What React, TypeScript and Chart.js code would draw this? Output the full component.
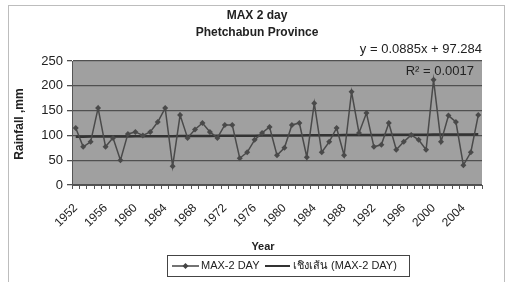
import React, { useEffect, useRef } from "react";
import { Chart, registerables } from "chart.js";

Chart.register(...registerables);

const years: string[] = [
  "1952","1953","1954","1955","1956","1957","1958","1959","1960","1961",
  "1962","1963","1964","1965","1966","1967","1968","1969","1970","1971",
  "1972","1973","1974","1975","1976","1977","1978","1979","1980","1981",
  "1982","1983","1984","1985","1986","1987","1988","1989","1990","1991",
  "1992","1993","1994","1995","1996","1997","1998","1999","2000","2001",
  "2002","2003","2004","2005","2006",
];

const max2Day: number[] = [
  115, 77, 87, 155, 77, 95, 50, 103, 107, 100,
  107, 127, 155, 38, 141, 95, 112, 125, 107, 95,
  121, 121, 54, 66, 91, 105, 117, 60, 75, 121,
  125, 56, 165, 66, 87, 115, 60, 188, 105, 145,
  77, 81, 125, 71, 87, 101, 91, 71, 212, 87,
  140, 127, 40, 66, 141,
];

// Excel trendline as printed on the chart: y = 0.0885x + 97.284 (x = 1..n)
const trendSlope = 0.0885;
const trendIntercept = 97.284;
const trendValues: number[] = years.map((_, i) => trendSlope * (i + 1) + trendIntercept);

const yTicks: number[] = [0, 50, 100, 150, 200, 250];

const titleLines: string[] = ["MAX 2 day", "Phetchabun Province"];
const equationText = "y = 0.0885x + 97.284";
const r2Text = "R\u00B2 = 0.0017";
const seriesLabel = "MAX-2 DAY";
const trendLabel = "เชิงเส้น (MAX-2 DAY)";
const xTitle = "Year";
const yTitle = "Rainfall ,mm";

const FONT = '"Liberation Sans", Arial, "Noto Sans", sans-serif';

const decorPlugin = {
  id: "decor",
  beforeDraw(chart: any) {
    const { ctx, chartArea } = chart;
    ctx.save();
    ctx.fillStyle = "#ffffff";
    ctx.fillRect(0, 0, chart.width, chart.height);
    ctx.strokeStyle = "#bdbdbd";
    ctx.lineWidth = 1;
    ctx.strokeRect(8.5, 5.5, 496, 280);
    ctx.fillStyle = "#a0a0a0";
    ctx.fillRect(chartArea.left, chartArea.top, chartArea.right - chartArea.left, chartArea.bottom - chartArea.top);
    ctx.restore();
  },
  afterDraw(chart: any) {
    const { ctx } = chart;
    ctx.save();
    ctx.fillStyle = "#222";
    ctx.textBaseline = "middle";
    ctx.textAlign = "center";
    ctx.font = `bold 12px ${FONT}`;
    ctx.fillText(titleLines[0], 257, 16);
    ctx.fillText(titleLines[1], 257, 33);

    ctx.font = `13px ${FONT}`;
    ctx.textAlign = "right";
    ctx.fillText(equationText, 482, 49);
    ctx.fillText(r2Text, 474, 71);

    ctx.textAlign = "center";
    ctx.font = `bold 11px ${FONT}`;
    ctx.fillText(xTitle, 263, 247);

    ctx.save();
    ctx.translate(20, 124);
    ctx.rotate(-Math.PI / 2);
    ctx.font = `bold 12px ${FONT}`;
    ctx.fillText(yTitle, 0, 0);
    ctx.restore();

    // legend
    ctx.strokeStyle = "#444";
    ctx.lineWidth = 1;
    ctx.strokeRect(167.5, 255.5, 242, 21);
    const ly = 266;
    ctx.strokeStyle = "#444";
    ctx.lineWidth = 1.5;
    ctx.beginPath();
    ctx.moveTo(172, ly);
    ctx.lineTo(199, ly);
    ctx.stroke();
    ctx.fillStyle = "#444";
    ctx.beginPath();
    ctx.moveTo(185.5, ly - 3);
    ctx.lineTo(188.5, ly);
    ctx.lineTo(185.5, ly + 3);
    ctx.lineTo(182.5, ly);
    ctx.closePath();
    ctx.fill();
    ctx.fillStyle = "#222";
    ctx.textAlign = "left";
    ctx.font = `11px ${FONT}`;
    ctx.fillText(seriesLabel, 201, ly);
    ctx.strokeStyle = "#333";
    ctx.lineWidth = 2;
    ctx.beginPath();
    ctx.moveTo(265, ly);
    ctx.lineTo(290, ly);
    ctx.stroke();
    ctx.fillText(trendLabel, 293, ly);
    ctx.restore();
  },
};

export default function App() {
  const ref = useRef<HTMLCanvasElement | null>(null);

  useEffect(() => {
    document.body.style.margin = "0";
    const canvas = ref.current;
    if (!canvas) return;
    const chart = new Chart(canvas, {
      type: "line",
      data: {
        labels: years,
        datasets: [
          {
            label: seriesLabel,
            data: max2Day,
            borderColor: "#4a4a4a",
            backgroundColor: "#4a4a4a",
            borderWidth: 1.5,
            pointStyle: "rectRot",
            pointRadius: 3,
            pointBorderWidth: 0,
            tension: 0,
          },
          {
            label: trendLabel,
            data: trendValues,
            borderColor: "#333333",
            borderWidth: 2.5,
            pointRadius: 0,
            tension: 0,
          },
        ],
      },
      options: {
        responsive: false,
        animation: false,
        layout: { padding: { left: 0, right: 26, top: 61, bottom: 0 } },
        plugins: {
          legend: { display: false },
          title: { display: false },
          tooltip: { enabled: false },
        },
        scales: {
          x: {
            type: "category",
            offset: true,
            afterFit: (s: any) => {
              s.height = 97;
            },
            grid: {
              display: true,
              drawOnChartArea: false,
              drawTicks: true,
              tickLength: 4,
              offset: true,
              color: "#555",
            },
            border: { display: true, color: "#555", width: 1 },
            ticks: {
              autoSkip: false,
              maxRotation: 45,
              minRotation: 45,
              padding: 12,
              color: "#222",
              font: { family: FONT, size: 12 },
              callback: (_v: any, i: number) => (i % 4 === 0 ? years[i] : ""),
            },
          },
          y: {
            min: yTicks[0],
            max: yTicks[yTicks.length - 1],
            afterFit: (s: any) => {
              s.width = 72;
            },
            afterBuildTicks: (s: any) => {
              s.ticks = yTicks.map((v) => ({ value: v }));
            },
            grid: {
              color: "#505050",
              lineWidth: 1.3,
              drawTicks: true,
              tickLength: 5,
            },
            border: { display: true, color: "#555", width: 1 },
            ticks: {
              padding: 4,
              color: "#222",
              font: { family: FONT, size: 13 },
            },
          },
        },
      },
      plugins: [decorPlugin],
    });
    return () => chart.destroy();
  }, []);

  return (
    <div style={{ width: 508, height: 282 }}>
      <canvas ref={ref} width={508} height={282} style={{ display: "block" }} />
    </div>
  );
}
